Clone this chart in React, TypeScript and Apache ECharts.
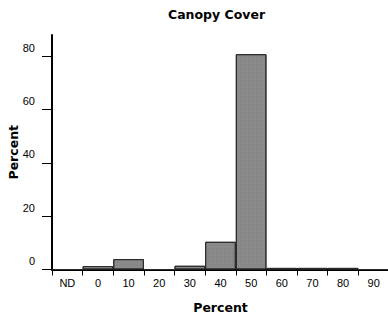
import React, { useEffect, useRef } from "react";
import * as echarts from "echarts";

const categories = ["ND", "0", "10", "20", "30", "40", "50", "60", "70", "80", "90"];
const values = [0, 1.3, 3.9, 0, 1.4, 10.4, 80.8, 0.6, 0.6, 0.6, 0];
const yTicks = [0, 20, 40, 60, 80];

export default function App() {
  const ref = useRef<HTMLDivElement>(null);
  useEffect(() => {
    const chart = echarts.init(ref.current!, null, { renderer: "svg" });
    const bold = { fontFamily: "DejaVu Sans", fontWeight: "bold" as const, fontSize: 12, color: "#000" };
    chart.setOption({
      animation: false,
      backgroundColor: "#fff",
      title: {
        text: "Canopy Cover",
        left: 168,
        top: 8,
        padding: 0,
        textStyle: { ...bold, fontSize: 12.5 },
      },
      grid: {
        left: 52,
        top: 35,
        width: 337,
        height: 234.5,
        containLabel: false,
        outerBoundsMode: "none",
      },
      xAxis: {
        type: "category",
        data: categories,
        boundaryGap: true,
        name: "Percent",
        nameLocation: "middle",
        nameGap: 31,
        nameMoveOverlap: false,
        nameTextStyle: { ...bold, fontSize: 12.5 },
        axisLine: { lineStyle: { color: "#000", width: 2 } },
        axisTick: { show: true, length: 6, lineStyle: { color: "#000", width: 1 } },
        axisLabel: {
          fontFamily: "Liberation Sans",
          fontSize: 11,
          color: "#000",
          margin: 8,
          interval: 0,
        },
      },
      yAxis: {
        type: "value",
        min: 0,
        max: 88,
        interval: 20,
        name: "Percent",
        nameLocation: "middle",
        nameGap: 32,
        nameMoveOverlap: false,
        nameRotate: 90,
        nameTextStyle: { ...bold, fontSize: 12.5 },
        splitLine: { show: false },
        axisLine: { show: true, lineStyle: { color: "#000", width: 2 } },
        axisTick: {
          show: true,
          length: 10,
          lineStyle: { color: "#000", width: 1 },
          customValues: yTicks,
        },
        axisLabel: {
          fontFamily: "Liberation Sans",
          fontSize: 11,
          color: "#000",
          margin: 17,
          verticalAlign: "bottom",
          padding: [0, 0, 3, 0],
          customValues: yTicks,
        },
      },
      series: [
        {
          type: "bar",
          data: values,
          barCategoryGap: "0%",
          itemStyle: {
            color: "#8a8a8a",
            borderColor: "#2a2a2a",
            borderWidth: 1,
            decal: {
              symbol: "rect",
              symbolSize: 0.4,
              color: "rgba(60,60,60,0.35)",
              dashArrayX: [2, 2],
              dashArrayY: [2, 2],
              rotation: 0,
            },
          },
        },
      ],
    });
    return () => chart.dispose();
  }, []);
  return (
    <div
      ref={ref}
      style={{ position: "fixed", left: 0, top: 0, width: 388, height: 314 }}
    />
  );
}
